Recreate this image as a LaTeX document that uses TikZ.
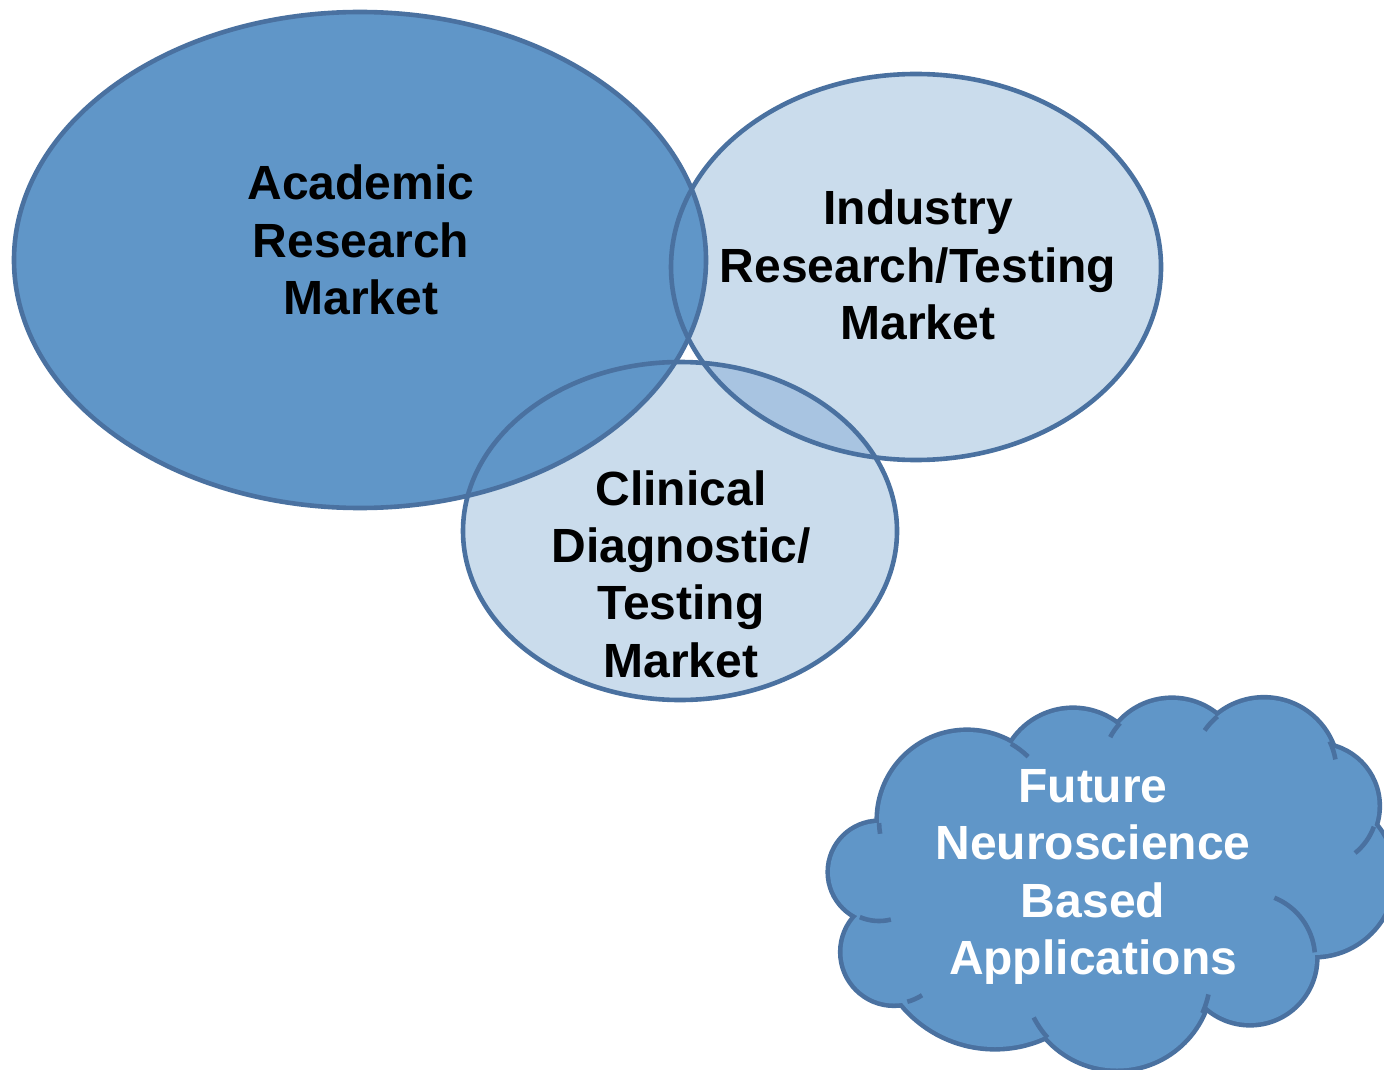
\documentclass[tikz,border=0pt]{standalone}
\usepackage{fontspec}
\setmainfont{Liberation Sans}
\definecolor{darkfill}{HTML}{6096C8}
\definecolor{lightfill}{HTML}{CADCEC}
\definecolor{lensfill}{HTML}{A8C4E1}
\definecolor{edgeblue}{HTML}{4A71A0}
\tikzset{
  mkt/.style={font=\bfseries\fontsize{24}{28.7}\selectfont, align=center, inner sep=0pt},
  ring/.style={draw=edgeblue, line width=2.3pt},
}
\begin{document}
\begin{tikzpicture}[x=0.5pt,y=-0.5pt]
  \useasboundingbox (0,0) rectangle (1384,1069);
  \clip (0,0) rectangle (1384,1069);
  % fills first
  \fill[lightfill] (916,267) ellipse [x radius=245, y radius=193];
  \fill[lightfill] (680,531) ellipse [x radius=217, y radius=169];
  \begin{scope}
    \clip (916,267) ellipse [x radius=245, y radius=193];
    \fill[lensfill] (680,531) ellipse [x radius=217, y radius=169];
  \end{scope}
  \fill[darkfill] (360,260) ellipse [x radius=346, y radius=248];
  % outlines on top
  \draw[ring] (916,267) ellipse [x radius=245, y radius=193];
  \draw[ring] (680,531) ellipse [x radius=217, y radius=169];
  \draw[ring] (360,260) ellipse [x radius=346, y radius=248];
  % cloud: puffs, outer edge, then the inner hooks
  \def\puffs{967/820/88, 1073/782/72, 1172/770/70, 1264/772/72.5, 1317/806/60.5,
    1314/876/79, 1250/958/65, 1117/975/93.5, 995/927/120, 894/952/51.5, 879/872/49}
  \foreach \cx/\cy/\r in \puffs
    \draw[ring, line width=4.6pt] (\cx,\cy) circle [radius=\r];
  \foreach \cx/\cy/\r in \puffs
    \fill[darkfill] (\cx,\cy) circle [radius=\r];
  \fill[darkfill] (1100,880) ellipse [x radius=200, y radius=110];
  \foreach \cx/\cy/\r/\s/\e in {967/820/88/-60/-46, 967/820/88/178/171,
    1172/770/70/222/208, 1264/772/72.5/230/215, 1264/772/72.5/-25/-10,
    1317/806/60.5/20/51, 1250/958/65/-5/-68, 1117/975/93.5/24/12,
    1117/975/93.5/138/153, 894/952/51.5/75/57, 879/872/49/113/76}
    \draw[ring] (\cx,\cy) ++(\s:\r) arc[start angle=\s, end angle=\e, radius=\r];
  % labels
  \node[mkt] (academic) at (361,240) {Academic\\Research\\Market};
  \node[mkt] (industry) at (918,265) {Industry\\Research/Testing\\Market};
  \node[mkt] (clinical) at (681,574) {Clinical\\Diagnostic/\\Testing\\Market};
  \node[mkt, text=white] (apps) at (1093,877) {Future\\Neuroscience\\Based\\Applications};
\end{tikzpicture}
\end{document}
